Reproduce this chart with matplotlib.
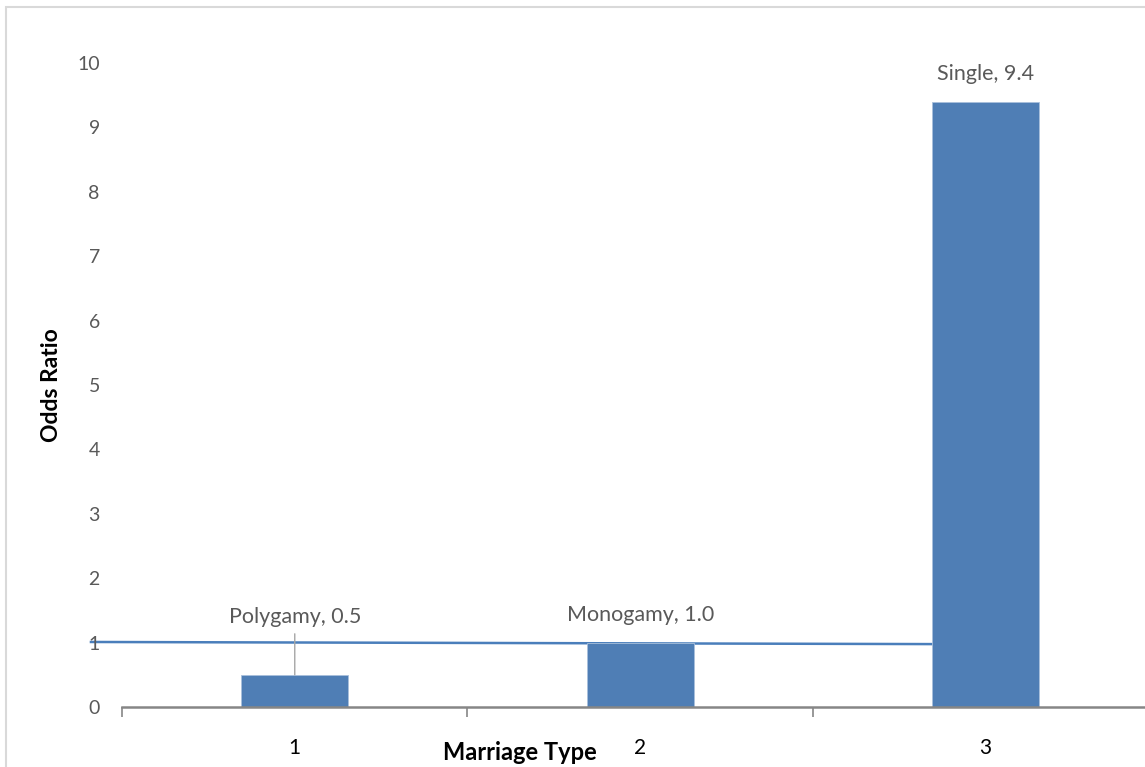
import matplotlib.pyplot as plt
from matplotlib.patches import Rectangle

plt.rcParams['font.family'] = ['Lato', 'DejaVu Sans']

categories = [1, 2, 3]
names = ['Polygamy', 'Monogamy', 'Single']
odds = [0.5, 1.0, 9.4]
ref_x = [0.41, 3.0]
ref_y = [1.01, 0.975]
yticks = list(range(0, 11))

bar_color = '#4F7EB5'
grey = '#595959'

fig = plt.figure(figsize=(11.45, 7.67), dpi=100)
ax = fig.add_axes([0.1066, 0.0782, 0.905, 0.8396])

ax.plot(ref_x, ref_y, color='#4A7EBB', lw=1.8, zorder=1, clip_on=False)
bars = ax.bar(categories, odds, width=0.31, color=bar_color,
              edgecolor='#a9c0dc', linewidth=0.6, zorder=2)

ax.set_xlim(0.5, 3.5)
ax.set_ylim(0, 10)
ax.set_yticks(yticks)
ax.tick_params(axis='y', length=0, pad=16, labelsize=14, labelcolor=grey)
ax.set_xticks(categories)
ax.set_xticks([0.5, 1.5, 2.5, 3.5], minor=True)
ax.tick_params(axis='x', which='major', length=0, pad=22, labelsize=15,
               labelcolor='black')
ax.tick_params(axis='x', which='minor', length=7, width=1.2, color='#868686')

for s in ['left', 'right', 'top']:
    ax.spines[s].set_visible(False)
ax.spines['bottom'].set_color('#868686')
ax.spines['bottom'].set_linewidth(1.8)

# data labels
for x, n, v in zip(categories, names, odds):
    txt = f'{n}, {v:.1f}'
    if n == 'Polygamy':
        ax.annotate(txt, xy=(x, v), xytext=(x, 1.4), ha='center', va='center',
                    fontsize=15.5, color=grey,
                    arrowprops=dict(arrowstyle='-', color='#a6a6a6', lw=1,
                                    shrinkA=3, shrinkB=0))
    else:
        ax.annotate(txt, xy=(x, v), xytext=(0, 20), textcoords='offset points',
                    ha='center', va='center', fontsize=15.5, color=grey)

fig.text(520 / 1145, (767 - 752) / 767, 'Marriage Type', ha='center',
         va='center', fontsize=17, fontweight='bold')
fig.text(52 / 1145, (767 - 385) / 767, 'Odds Ratio', ha='center', va='center',
         rotation=90, fontsize=16.5, fontweight='bold')

fig.patches.append(Rectangle((6 / 1145, -0.1), 1.2, (767 - 7) / 767 + 0.1,
                             transform=fig.transFigure, fill=False,
                             edgecolor='#d9d9d9', lw=1.5))

fig.savefig('out.png', dpi=100)
